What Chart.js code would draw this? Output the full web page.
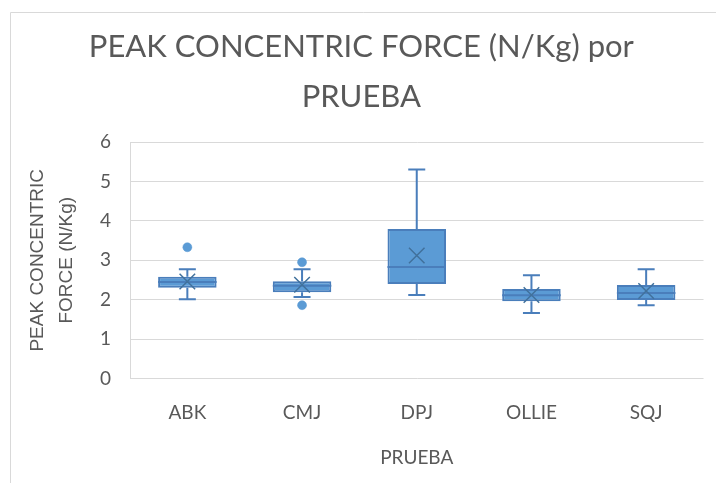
<!DOCTYPE html>
<html>
<head>
<meta charset="utf-8">
<script src="https://cdn.jsdelivr.net/npm/chart.js@4.4.1/dist/chart.umd.min.js"></script>
<style>
  html, body { margin: 0; padding: 0; background: #ffffff; }
  #wrap { width: 716px; height: 483px; position: relative; }
</style>
</head>
<body>
<div id="wrap"><canvas id="c" width="716" height="483"></canvas></div>
<script>
// ---- data ----
const categories = ['ABK', 'CMJ', 'DPJ', 'OLLIE', 'SQJ'];
const whiskerLow  = [2.01, 2.07, 2.12, 1.66, 1.86];
const q1          = [2.30, 2.19, 2.40, 1.96, 1.99];
const median      = [2.45, 2.35, 2.83, 2.11, 2.17];
const q3          = [2.58, 2.47, 3.79, 2.27, 2.37];
const whiskerHigh = [2.77, 2.77, 5.30, 2.62, 2.77];
const mean        = [2.46, 2.38, 3.12, 2.12, 2.22];
const outliersHigh = [3.33, 2.95, null, null, null];
const outliersLow  = [null, 1.86, null, null, null];
const yTicks = [0, 1, 2, 3, 4, 5, 6];

const titleLines = ['PEAK CONCENTRIC FORCE (N/Kg) por', 'PRUEBA'];
const yTitleLines = ['PEAK CONCENTRIC', 'FORCE (N/Kg)'];
const xTitle = 'PRUEBA';

const FILL = '#5B9BD5';
const LINE = '#4A7EBB';
const DARK = '#41719C';
const TEXT = '#595959';

const framePlugin = {
  id: 'frame',
  beforeDraw(chart) {
    const ctx = chart.ctx;
    ctx.save();
    ctx.strokeStyle = '#D9D9D9';
    ctx.lineWidth = 1;
    ctx.beginPath();
    ctx.moveTo(10.5, 483);
    ctx.lineTo(10.5, 12.5);
    ctx.lineTo(716, 12.5);
    ctx.stroke();
    ctx.restore();
  }
};

const boxPlugin = {
  id: 'boxparts',
  beforeDatasetsDraw(chart) {
    // whiskers, behind boxes
    const ctx = chart.ctx;
    const x = chart.scales.x, y = chart.scales.y;
    const capHalf = 8.5;
    ctx.save();
    ctx.strokeStyle = LINE;
    ctx.lineWidth = 2;
    categories.forEach((c, i) => {
      const cx = x.getPixelForValue(i);
      const yl = y.getPixelForValue(whiskerLow[i]);
      const yh = y.getPixelForValue(whiskerHigh[i]);
      const y1 = y.getPixelForValue(q1[i]);
      const y3 = y.getPixelForValue(q3[i]);
      ctx.beginPath();
      ctx.moveTo(cx, yh); ctx.lineTo(cx, y3);
      ctx.moveTo(cx, y1); ctx.lineTo(cx, yl);
      ctx.moveTo(cx - capHalf, yh); ctx.lineTo(cx + capHalf, yh);
      ctx.moveTo(cx - capHalf, yl); ctx.lineTo(cx + capHalf, yl);
      ctx.stroke();
    });
    ctx.restore();
  },
  afterDatasetDraw(chart, args) {
    if (args.index !== 0) return;
    const ctx = chart.ctx;
    const y = chart.scales.y;
    const meta = chart.getDatasetMeta(0);
    ctx.save();
    ctx.strokeStyle = LINE;
    ctx.lineWidth = 2;
    meta.data.forEach((bar, i) => {
      const half = bar.width / 2;
      const ym = y.getPixelForValue(median[i]);
      ctx.beginPath();
      ctx.moveTo(bar.x - half, ym);
      ctx.lineTo(bar.x + half, ym);
      ctx.stroke();
    });
    ctx.restore();
  }
};

new Chart(document.getElementById('c'), {
  data: {
    labels: categories,
    datasets: [
      {
        type: 'bar',
        label: 'box',
        data: categories.map((c, i) => [q1[i], q3[i]]),
        backgroundColor: FILL,
        borderColor: LINE,
        borderWidth: 2,
        borderSkipped: false,
        barPercentage: 0.51,
        categoryPercentage: 1.0,
        order: 2
      },
      {
        type: 'line',
        label: 'mean',
        data: mean,
        showLine: false,
        pointStyle: 'crossRot',
        pointRadius: 11,
        pointBorderWidth: 1.5,
        pointBorderColor: DARK,
        pointBackgroundColor: DARK,
        order: 1
      },
      {
        type: 'line',
        label: 'outliersHigh',
        data: outliersHigh,
        showLine: false,
        pointStyle: 'circle',
        pointRadius: 4.5,
        pointBorderWidth: 0.5,
        pointBorderColor: FILL,
        pointBackgroundColor: FILL,
        order: 1
      },
      {
        type: 'line',
        label: 'outliersLow',
        data: outliersLow,
        showLine: false,
        pointStyle: 'circle',
        pointRadius: 4.5,
        pointBorderWidth: 0.5,
        pointBorderColor: FILL,
        pointBackgroundColor: FILL,
        order: 1
      }
    ]
  },
  options: {
    responsive: false,
    animation: false,
    layout: { padding: { left: 12, right: 5.3, top: 0, bottom: 0 } },
    plugins: {
      legend: { display: false },
      tooltip: { enabled: false },
      title: {
        display: true,
        text: titleLines,
        color: TEXT,
        font: { family: 'Lato', size: 31, weight: 'normal', lineHeight: 50 / 31 },
        padding: { top: 21.5, bottom: 20.5 }
      }
    },
    scales: {
      x: {
        type: 'category',
        offset: true,
        grid: { display: false, drawTicks: false },
        border: { display: false },
        ticks: {
          color: TEXT,
          padding: 22.6,
          font: { family: 'Lato', size: 19, lineHeight: 1.2 }
        },
        title: {
          display: true,
          text: xTitle,
          color: TEXT,
          font: { family: 'Lato', size: 19, lineHeight: 1.2 },
          padding: { top: 0, bottom: 13.6 }
        },
        afterFit(scale) { scale.height = 104.5; }
      },
      y: {
        type: 'linear',
        min: 0,
        max: 6,
        afterBuildTicks(scale) { scale.ticks = yTicks.map(v => ({ value: v })); },
        grid: { color: '#D9D9D9', lineWidth: 1, drawTicks: false },
        border: { display: true, color: '#D9D9D9', width: 1 },
        ticks: {
          color: TEXT,
          padding: 19,
          font: { family: 'Lato', size: 19 }
        },
        title: {
          display: true,
          text: yTitleLines,
          color: TEXT,
          font: { family: "'Liberation Sans', Arial, sans-serif", size: 19, lineHeight: 29 / 19 },
          padding: { top: 11, bottom: 0 }
        },
        afterFit(scale) { scale.width = 118; }
      }
    }
  },
  plugins: [framePlugin, boxPlugin]
});
</script>
</body>
</html>
